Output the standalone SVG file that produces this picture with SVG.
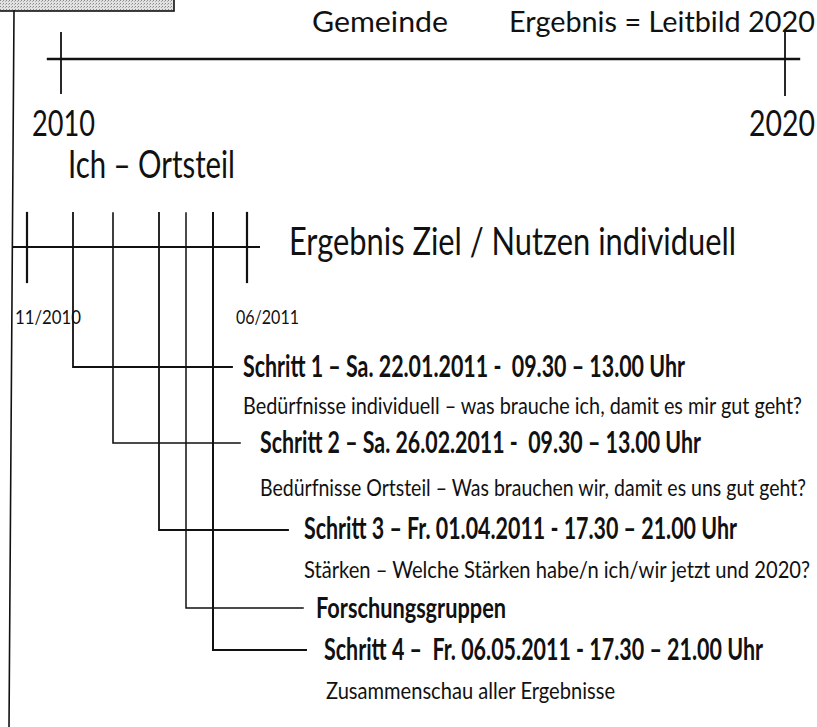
<svg xmlns="http://www.w3.org/2000/svg" width="817" height="727" viewBox="0 0 817 727">
<style>
text{font-family:"Lato","Liberation Sans",sans-serif;fill:#111;white-space:pre}
.step{font-weight:bold}
.ln{stroke:#111;fill:none;stroke-linecap:square}
</style>
<defs>
<pattern id="stip" width="3" height="3" patternUnits="userSpaceOnUse">
<rect width="3" height="3" fill="#e2e2e2"/>
<rect x="0" y="0" width="1" height="1" fill="#888"/>
<rect x="2" y="1" width="1" height="1" fill="#aaa"/>
</pattern>
</defs>
<rect width="817" height="727" fill="#fff"/>
<g id="header-box">
<rect x="-2" y="-2" width="176" height="13" fill="url(#stip)" stroke="#111" stroke-width="1.6"/>
</g>
<g id="axes">
<line class="ln" x1="14" y1="11" x2="9" y2="727" stroke-width="1.6"/>
<line class="ln" x1="48" y1="59" x2="799" y2="59" stroke-width="2.4"/>
<line class="ln" x1="61" y1="33" x2="61" y2="93" stroke-width="1.8"/>
<line class="ln" x1="785" y1="33" x2="785" y2="95" stroke-width="1.8"/>
<line class="ln" x1="13" y1="247" x2="259" y2="247" stroke-width="2"/>
<line class="ln" x1="27" y1="213" x2="27" y2="282" stroke-width="2.2"/>
<line class="ln" x1="247" y1="213" x2="247" y2="282" stroke-width="2.2"/>
</g>
<g id="connectors">
<polyline class="ln" points="73,213 73,367 232,367" stroke-width="1.8"/>
<polyline class="ln" points="113,213 113,443 240,443" stroke-width="1.6"/>
<polyline class="ln" points="159,213 159,530 288,530" stroke-width="1.8"/>
<polyline class="ln" points="186,213 186,608 303,608" stroke-width="1.5"/>
<polyline class="ln" points="213,213 213,650 306,650" stroke-width="2"/>
</g>
<g id="gemeinde"><text transform="translate(312,32)" font-size="29.2" textLength="136" lengthAdjust="spacingAndGlyphs">Gemeinde</text></g>
<g id="leitbild"><text transform="translate(509,32)" font-size="28.6" textLength="306" lengthAdjust="spacingAndGlyphs">Ergebnis = Leitbild 2020</text></g>
<g id="y2010"><text transform="translate(32,136) scale(1,1.4)" font-size="26.8" textLength="63" lengthAdjust="spacingAndGlyphs">2010</text></g>
<g id="y2020"><text transform="translate(749,136) scale(1,1.4)" font-size="26.8" textLength="66" lengthAdjust="spacingAndGlyphs">2020</text></g>
<g id="ortsteil"><text transform="translate(68,178) scale(1,1.33)" font-size="29.4" textLength="167" lengthAdjust="spacingAndGlyphs">Ich – Ortsteil</text></g>
<g id="ziel"><text transform="translate(289,255) scale(1,1.28)" font-size="30.4" textLength="447" lengthAdjust="spacingAndGlyphs">Ergebnis Ziel / Nutzen individuell</text></g>
<g id="d1110"><text transform="translate(15,324) scale(1,1.18)" font-size="16.6" textLength="66" lengthAdjust="spacingAndGlyphs">11/2010</text></g>
<g id="d0611"><text transform="translate(236,324) scale(1,1.18)" font-size="16.6" textLength="63" lengthAdjust="spacingAndGlyphs">06/2011</text></g>
<g id="schritt1">
<text class="step" transform="translate(243,377) scale(1,1.47)" font-size="20.9" textLength="442" lengthAdjust="spacingAndGlyphs">Schritt 1 – Sa. 22.01.2011 -  09.30 – 13.00 Uhr</text>
<text transform="translate(243,414) scale(1,1.21)" font-size="19.6" textLength="559" lengthAdjust="spacingAndGlyphs">Bedürfnisse individuell – was brauche ich, damit es mir gut geht?</text>
</g>
<g id="schritt2">
<text class="step" transform="translate(260,453) scale(1,1.48)" font-size="20.8" textLength="441" lengthAdjust="spacingAndGlyphs">Schritt 2 – Sa. 26.02.2011 -  09.30 – 13.00 Uhr</text>
<text transform="translate(260,496) scale(1,1.22)" font-size="19.4" textLength="546" lengthAdjust="spacingAndGlyphs">Bedürfnisse Ortsteil – Was brauchen wir, damit es uns gut geht?</text>
</g>
<g id="schritt3">
<text class="step" transform="translate(304,539) scale(1,1.48)" font-size="20.7" textLength="433" lengthAdjust="spacingAndGlyphs">Schritt 3 – Fr. 01.04.2011 - 17.30 – 21.00 Uhr</text>
<text transform="translate(304,578) scale(1,1.19)" font-size="20" textLength="506" lengthAdjust="spacingAndGlyphs">Stärken – Welche Stärken habe/n ich/wir jetzt und 2020?</text>
</g>
<g id="forschung">
<text class="step" transform="translate(316,618) scale(1,1.43)" font-size="20.5" textLength="190" lengthAdjust="spacingAndGlyphs">Forschungsgruppen</text>
</g>
<g id="schritt4">
<text class="step" transform="translate(324,660) scale(1,1.48)" font-size="20.8" textLength="439" lengthAdjust="spacingAndGlyphs">Schritt 4 –  Fr. 06.05.2011 - 17.30 – 21.00 Uhr</text>
<text transform="translate(326,699) scale(1,1.21)" font-size="19.6" textLength="289" lengthAdjust="spacingAndGlyphs">Zusammenschau aller Ergebnisse</text>
</g>
</svg>
